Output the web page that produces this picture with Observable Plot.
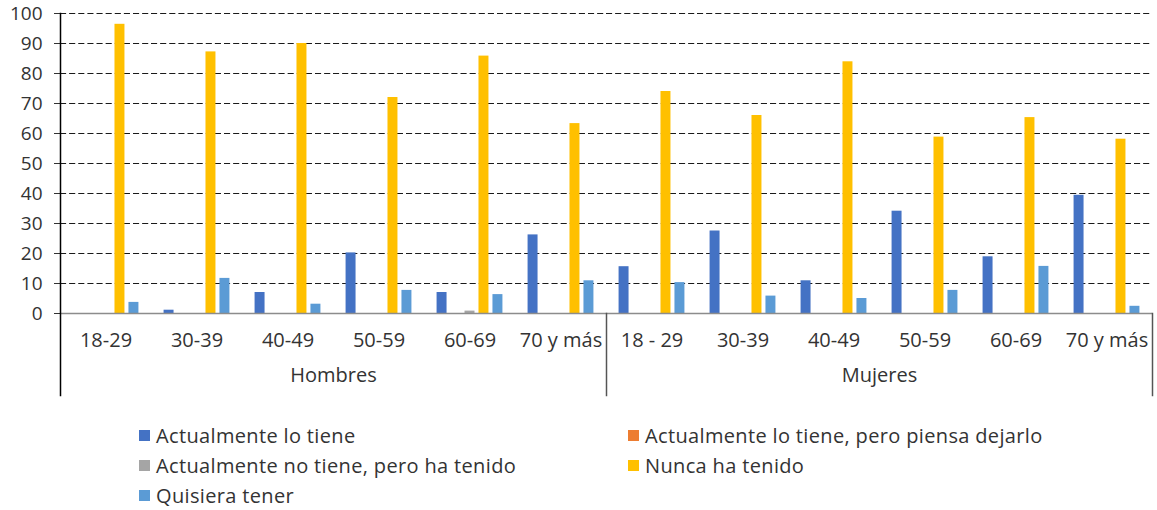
<!DOCTYPE html>
<html><head><meta charset="utf-8">
<script src="https://cdn.jsdelivr.net/npm/d3@7"></script>
<script src="https://cdn.jsdelivr.net/npm/@observablehq/plot@0.6"></script>
<style>
body{margin:0;background:#fff;font-family:"Open Sans",sans-serif;}
#legend{display:grid;grid-template-columns:489px 489px;margin-left:139px;padding-top:20px;font-size:20px;color:#333;letter-spacing:0.35px;}
.item{display:flex;align-items:center;height:30px;white-space:nowrap;}
.sw{width:11px;height:11px;margin-right:6px;flex:none;}
</style></head><body><div id="chart"></div><div id="legend"></div>
<script>
const sexes = ["Hombres", "Mujeres"];
const agesHombres = ["18-29", "30-39", "40-49", "50-59", "60-69", "70 y más"];
const agesMujeres = ["18 - 29", "30-39", "40-49", "50-59", "60-69", "70 y más"];
const seriesNames = [
  "Actualmente lo tiene",
  "Actualmente lo tiene, pero piensa dejarlo",
  "Actualmente no tiene, pero ha tenido",
  "Nunca ha tenido",
  "Quisiera tener"
];
const colors = ["#4472C4", "#ED7D31", "#A5A5A5", "#FFC000", "#5B9BD5"];
// values: Hombres 6 ages, then Mujeres 6 ages
const actualmente   = [0, 1.1, 7.0, 20.2, 7.0, 26.2,  15.6, 27.5, 10.9, 34.1, 18.9, 39.4];
const piensaDejarlo = [0, 0, 0, 0, 0, 0,  0, 0, 0, 0, 0, 0];
const haTenido      = [0, 0, 0, 0, 0.8, 0,  0, 0, 0, 0, 0, 0];
const nunca         = [96.4, 87.2, 90.0, 72.0, 85.8, 63.3,  74.0, 66.0, 83.9, 58.8, 65.3, 58.1];
const quisiera      = [3.7, 11.7, 3.1, 7.7, 6.3, 10.9,  10.3, 5.8, 5.0, 7.7, 15.7, 2.4];
const yTicks = [0, 10, 20, 30, 40, 50, 60, 70, 80, 90, 100];

const seriesValues = [actualmente, piensaDejarlo, haTenido, nunca, quisiera];
const keys = [
  ...agesHombres.map(a => "Hombres|" + a),
  ...agesMujeres.map(a => "Mujeres|" + a)
];
const data = [];
seriesNames.forEach((s, si) => {
  keys.forEach((k, ki) => data.push({key: k, series: s, value: seriesValues[si][ki]}));
});
const sexLabels = sexes.map((s, i) => ({key: keys[i * 6 + 3], label: s}));

const chart = Plot.plot({
  width: 1157, height: 400,
  marginLeft: 58, marginRight: 4, marginTop: 13, marginBottom: 87,
  style: {fontFamily: "Open Sans", fontSize: "20px", color: "#333", background: "#fff"},
  fx: {domain: keys, paddingInner: 0, paddingOuter: 0, axis: "bottom", tickSize: 0, tickPadding: 19,
       tickFormat: k => k.split("|")[1], label: null},
  x: {domain: seriesNames, paddingInner: 0.286, paddingOuter: 0.9, axis: null, round: false},
  y: {domain: [0, 100], axis: null},
  color: {domain: seriesNames, range: colors},
  marks: [
    Plot.axisY({ticks: yTicks, tickSize: 6, tickPadding: 12, label: null, fontSize: 19}),
    Plot.ruleY(yTicks.filter(d => d > 0), {stroke: "#1a1a1a", strokeDasharray: "6.1,3.025", strokeWidth: 1.1}),
    Plot.barY(data, {fx: "key", x: "series", y: "value", fill: "series"}),
    Plot.ruleY([0], {stroke: "#8c8c8c", strokeWidth: 1.5}),
    Plot.frame({anchor: "left", fx: () => keys[0], insetBottom: -82, stroke: "#000", strokeWidth: 1.5}),
    Plot.frame({anchor: "left", fx: () => keys[6], insetTop: 300, insetBottom: -82, stroke: "#555", strokeWidth: 1.5}),
    Plot.frame({anchor: "right", fx: () => keys[11], insetTop: 300, insetBottom: -82, stroke: "#555", strokeWidth: 1.5}),
    Plot.text(sexLabels, {fx: "key", text: "label", frameAnchor: "bottom-left", textAnchor: "middle", dy: 68, fontSize: 20, fill: "#333"})
  ]
});
document.getElementById("chart").appendChild(chart);

const legend = document.getElementById("legend");
seriesNames.forEach((s, i) => {
  const it = document.createElement("div");
  it.className = "item";
  it.innerHTML = `<span class="sw" style="background:${colors[i]}"></span><span>${s}</span>`;
  legend.appendChild(it);
});
</script></body></html>
